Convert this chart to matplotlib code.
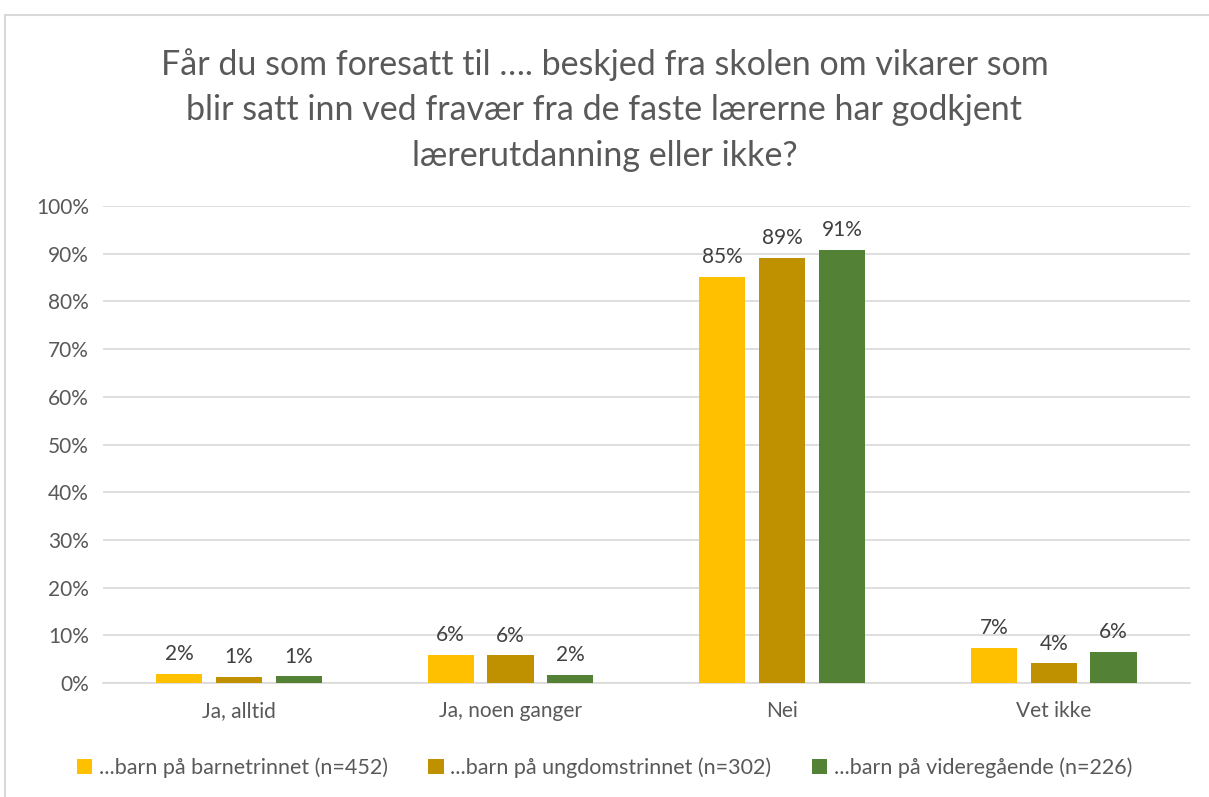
import matplotlib.pyplot as plt
import numpy as np
from matplotlib.ticker import PercentFormatter
from matplotlib.patches import Rectangle

plt.rcParams['font.family'] = ['Lato', 'DejaVu Sans']

categories = ["Ja, alltid", "Ja, noen ganger", "Nei", "Vet ikke"]
series_names = ["...barn på barnetrinnet (n=452)",
                "...barn på ungdomstrinnet (n=302)",
                "...barn på videregående (n=226)"]
barnetrinn = [1.9, 5.9, 85.1, 7.4]
ungdomstrinn = [1.3, 5.8, 89.1, 4.1]
videregaende = [1.4, 1.7, 90.8, 6.5]
labels_barnetrinn = ["2%", "6%", "85%", "7%"]
labels_ungdomstrinn = ["1%", "6%", "89%", "4%"]
labels_videregaende = ["1%", "2%", "91%", "6%"]
colors = ["#FFC000", "#BF9000", "#538135"]

title = ("Får du som foresatt til …. beskjed fra skolen om vikarer som\n"
         "blir satt inn ved fravær fra de faste lærerne har godkjent\n"
         "lærerutdanning eller ikke?")

grey = "#595959"

fig = plt.figure(figsize=(12.09, 7.97), dpi=100)
ax = fig.add_axes([0.0852, 0.143, 0.8988, 0.5985])

x = np.arange(len(categories))
w = 0.17
step = 0.22
all_vals = [barnetrinn, ungdomstrinn, videregaende]
all_labels = [labels_barnetrinn, labels_ungdomstrinn, labels_videregaende]
for i, (vals, labs) in enumerate(zip(all_vals, all_labels)):
    bars = ax.bar(x + (i - 1) * step, vals, w, color=colors[i], label=series_names[i], zorder=3)
    ax.bar_label(bars, labels=labs, padding=7, fontsize=15, color="#404040")

ax.set_xlim(-0.5, 3.5)
ax.set_ylim(0, 100)
ax.set_yticks(np.arange(0, 101, 10))
ax.yaxis.set_major_formatter(PercentFormatter(decimals=0))
ax.set_xticks(x)
ax.set_xticklabels(categories)
ax.tick_params(axis='both', length=0, labelsize=15, colors=grey)
ax.tick_params(axis='x', pad=13)
ax.tick_params(axis='y', pad=10)
ax.grid(axis='y', color="#D9D9D9", linewidth=1.2, zorder=0)
for s in ["top", "right", "left"]:
    ax.spines[s].set_visible(False)
ax.spines["bottom"].set_color("#D9D9D9")
ax.spines["bottom"].set_linewidth(1.2)

fig.text(0.5, 0.94, title, ha='center', va='top', fontsize=24.5, color=grey, linespacing=1.53)

leg = fig.legend(loc='center', bbox_to_anchor=(0.5, 0.037), ncol=3, frameon=False,
                 fontsize=15.5, handlelength=0.7, handleheight=0.7, handletextpad=0.3,
                 columnspacing=1.9, labelcolor=grey)

fig.patches.append(Rectangle((5 / 1209, -0.1), 1.2, 0.1 + 1 - 15 / 797, transform=fig.transFigure,
                             fill=False, edgecolor="#D9D9D9", linewidth=1.5))

fig.savefig("out.png", dpi=100)
